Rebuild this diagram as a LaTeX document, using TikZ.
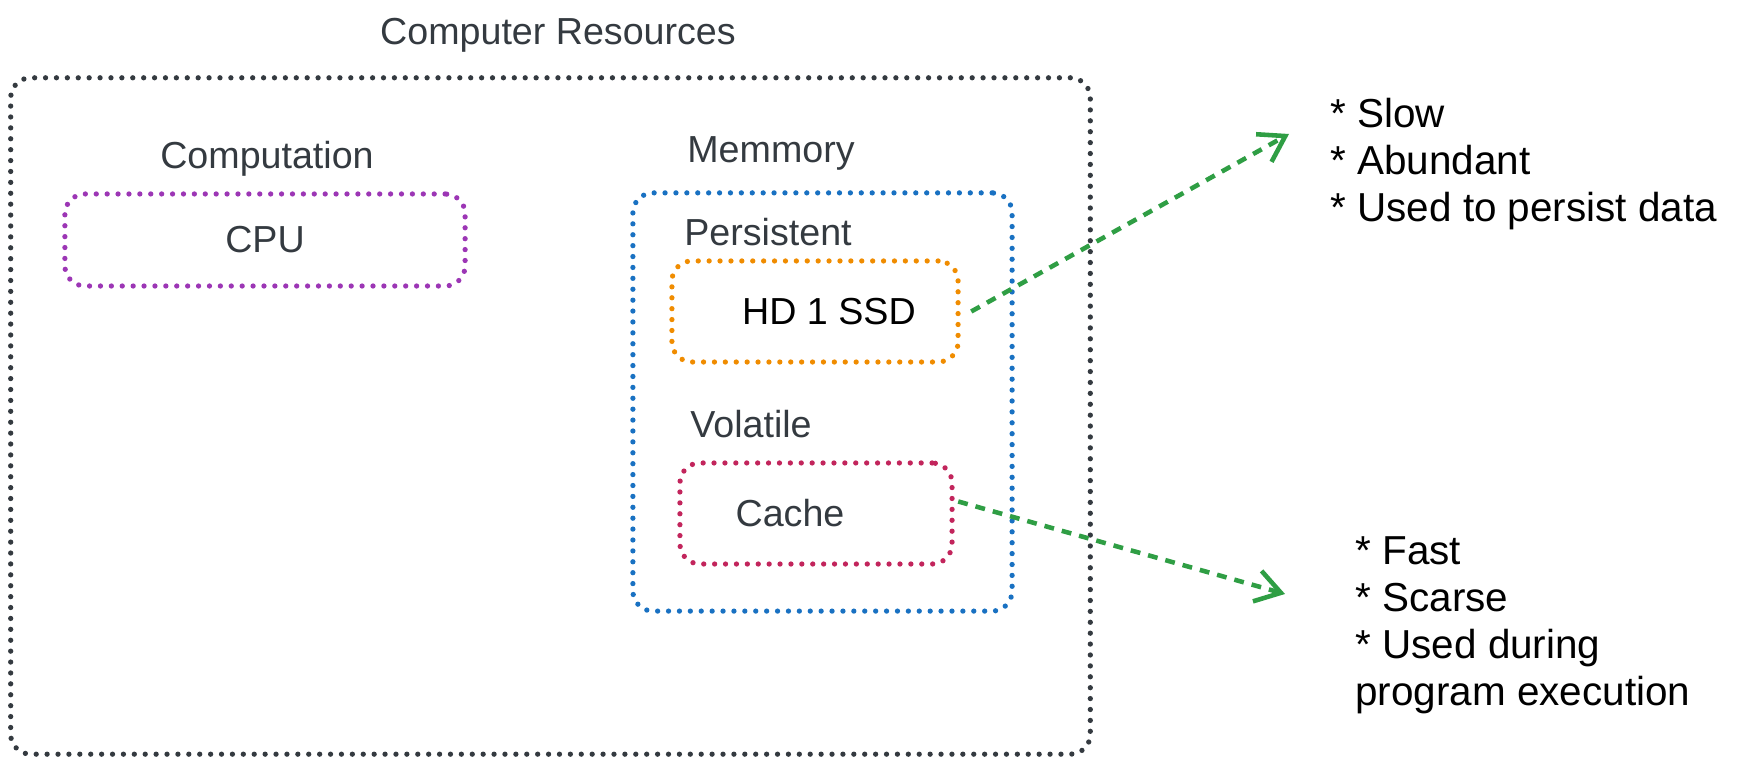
\documentclass[tikz,border=0pt]{standalone}
\usepackage{fontspec}
\setmainfont{Liberation Sans}
\usetikzlibrary{positioning,arrows.meta}

\definecolor{inkgray}{HTML}{343A40}
\definecolor{cpupurple}{HTML}{9C36B5}
\definecolor{memblue}{HTML}{1971C2}
\definecolor{hdorange}{HTML}{F08C00}
\definecolor{cachered}{HTML}{C2255C}
\definecolor{arrowgreen}{HTML}{2F9E44}

\newcommand{\lblfont}{\fontsize{10.7}{13}\selectfont}
\newcommand{\notefont}{\fontsize{11.5}{13.4}\selectfont}

\tikzset{
    lbl/.style={text=inkgray, font=\lblfont},
    dotbox/.style={draw, rounded corners=0.2cm, line width=1.5pt, line cap=round,
        dash pattern=on 0pt off 3.1pt, text=inkgray, font=\lblfont},
    notes/.style={align=left, text=black, font=\notefont},
    greenarrow/.style={draw=arrowgreen, line width=1.3pt, dash pattern=on 2.8pt off 2.3pt}
}

\begin{document}
\begin{tikzpicture}[x=0.01cm, y=-0.01cm, align=center]
    \useasboundingbox (0,0) rectangle (1757,765);

    % outer box
    \node(resources) at (550.5,416) [dotbox, draw=inkgray, minimum width=10.79cm, minimum height=6.76cm] {};
    \node(title) at (558,35) [lbl] {Computer Resources};

    % computation
    \node(cpu) at (265,240) [dotbox, draw=cpupurple, minimum width=4cm, minimum height=0.92cm] {CPU};
    \node(computation) at (267,159) [lbl] {Computation};

    % memory
    \node(memory) at (822.5,402) [dotbox, draw=memblue, minimum width=3.79cm, minimum height=4.18cm] {};
    \node(memmory) at (771,153) [lbl] {Memmory};
    \node(hd) at (815,311.5) [dotbox, draw=hdorange, text=black, minimum width=2.86cm, minimum height=1.01cm] {\hspace*{0.28cm}HD 1 SSD};
    \node(persistent) at (768,232) [lbl] {Persistent};
    \node(cache) at (816,513.5) [dotbox, draw=cachered, minimum width=2.72cm, minimum height=1.01cm] {Cache\hspace*{0.52cm}};
    \node(volatile) at (751,424) [lbl] {Volatile};

    % notes
    \node(slownotes) at (1318,164) [notes, anchor=west] {* Slow\\* Abundant\\* Used to persist data};
    \node(fastnotes) at (1343,625) [notes, anchor=west] {* Fast\\* Scarse\\* Used during\\program execution};

    % arrows
    \coordinate(slowtip) at (1289,134);
    \coordinate(fasttip) at (1285,594);
    \draw [-{Straight Barb[length=7pt,width=9pt]}][greenarrow] ([xshift=3pt]hd.east) to (slowtip);
    \draw [-{Straight Barb[length=7pt,width=9pt]}][greenarrow] ([xshift=1pt, yshift=0.12cm]cache.east) to (fasttip);

\end{tikzpicture}
\end{document}
